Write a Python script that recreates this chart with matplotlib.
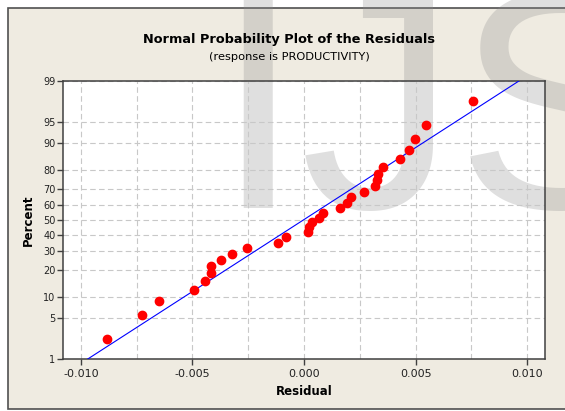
import math
import matplotlib
matplotlib.use("Agg")
import matplotlib.pyplot as plt
import numpy as np
from matplotlib.patches import Rectangle
from matplotlib.ticker import NullLocator, FixedLocator

# residuals (sorted) and their plotting positions in percent
resid = [-0.00881, -0.00728, -0.00650, -0.00494, -0.00442, -0.00418, -0.00415,
         -0.00373, -0.00324, -0.00256, -0.00117, -0.00081, 0.00018, 0.00024,
         0.00034, 0.00066, 0.00087, 0.00162, 0.00193, 0.00211, 0.00268,
         0.00316, 0.00328, 0.00333, 0.00353, 0.00431, 0.00472, 0.00496,
         0.00545, 0.00756]
pct = [2.30, 5.59, 8.88, 12.17, 15.46, 18.75, 22.04, 25.33, 28.62, 31.91,
       35.20, 38.49, 41.78, 45.07, 48.36, 51.64, 54.93, 58.22, 61.51, 64.80,
       68.09, 71.38, 74.67, 77.96, 81.25, 84.54, 87.83, 91.12, 94.41, 97.70]

# fitted line ends
line_pct = [1, 99]
line_resid = [-0.00969, 0.00963]

yticks = [1, 5, 10, 20, 30, 40, 50, 60, 70, 80, 90, 95, 99]
xticks = [-0.010, -0.005, 0.000, 0.005, 0.010]
xtick_labels = ["-0.010", "-0.005", "0.000", "0.005", "0.010"]
xminor = [-0.0075, -0.0025, 0.0025, 0.0075]


def ppf(p):
    # inverse normal cdf (Acklam), p in percent
    q = np.clip(np.asarray(p, float) / 100.0, 1e-9, 1 - 1e-9)
    a = [-3.969683028665376e+01, 2.209460984245205e+02, -2.759285104469687e+02,
         1.383577518672690e+02, -3.066479806614716e+01, 2.506628277459239e+00]
    b = [-5.447609879822406e+01, 1.615858368580409e+02, -1.556989798598866e+02,
         6.680131188771972e+01, -1.328068155288572e+01]
    c = [-7.784894002430293e-03, -3.223964580411365e-01, -2.400758277161838e+00,
         -2.549732539343734e+00, 4.374664141464968e+00, 2.938163982698783e+00]
    d = [7.784695709041462e-03, 3.224671290700398e-01, 2.445134137142996e+00,
         3.754408661907416e+00]
    out = np.empty_like(q)
    lo = q < 0.02425
    hi = q > 1 - 0.02425
    mid = ~(lo | hi)
    r = np.sqrt(-2 * np.log(q[lo]))
    out[lo] = (((((c[0]*r+c[1])*r+c[2])*r+c[3])*r+c[4])*r+c[5]) / \
              ((((d[0]*r+d[1])*r+d[2])*r+d[3])*r+1)
    r = np.sqrt(-2 * np.log(1 - q[hi]))
    out[hi] = -(((((c[0]*r+c[1])*r+c[2])*r+c[3])*r+c[4])*r+c[5]) / \
               ((((d[0]*r+d[1])*r+d[2])*r+d[3])*r+1)
    s = q[mid] - 0.5
    r = s * s
    out[mid] = (((((a[0]*r+a[1])*r+a[2])*r+a[3])*r+a[4])*r+a[5]) * s / \
               (((((b[0]*r+b[1])*r+b[2])*r+b[3])*r+b[4])*r+1)
    return out


_erf = np.vectorize(math.erf)


def cdf(z):
    return 50.0 * (1 + _erf(np.asarray(z, float) / math.sqrt(2)))


fig = plt.figure(figsize=(5.65, 4.11), dpi=100, facecolor="white")
W, H = 565.0, 411.0
fig.patches.append(Rectangle((8 / W, 1 - 409 / H), 1.2, (409 - 8) / H,
                             transform=fig.transFigure, facecolor="#efebe1",
                             edgecolor="#505050", lw=1.2, zorder=-1))

ax = fig.add_axes([63 / W, 1 - 359 / H, (545 - 63) / W, (359 - 81) / H])
ax.set_yscale("function", functions=(ppf, cdf))
ax.set_axisbelow(True)

# watermark
ax.text(214 / W, 1 - 208 / H, "IJS", transform=fig.transFigure,
        family="Liberation Sans", fontsize=224, color="#8c8c8c", alpha=0.28,
        ha="left", va="baseline", clip_on=False, zorder=0.2)

ax.plot(line_resid, line_pct, color="#0000ff", lw=0.8, zorder=3)
ax.plot(resid, pct, "o", color="#ff0000", ms=6, mec="#ff0000", zorder=4)

ax.set_xlim(-0.0108, 0.0108)
ax.set_ylim(1, 99)
ax.yaxis.set_major_locator(FixedLocator(yticks))
ax.yaxis.set_minor_locator(NullLocator())
ax.set_yticklabels([str(t) for t in yticks])
ax.set_xticks(xticks)
ax.set_xticklabels(xtick_labels)
ax.set_xticks(xminor, minor=True)

grid_kw = dict(color="#c8c8c8", lw=0.8, linestyle=(0, (5, 3)))
ax.grid(True, which="major", **grid_kw)
ax.xaxis.grid(True, which="minor", **grid_kw)

for s in ax.spines.values():
    s.set_color("#404040")
    s.set_linewidth(1.1)

ax.tick_params(axis="x", which="major", length=4, width=1, color="#404040",
               labelsize=8, pad=3.5, labelcolor="#222222")
ax.tick_params(axis="x", which="minor", length=0)
ax.tick_params(axis="y", which="major", length=4, width=1, color="#404040",
               labelsize=7, pad=1.5, labelcolor="#222222")

ax.set_xlabel("Residual", fontsize=8.5, fontweight="bold", labelpad=4)
ax.set_ylabel("Percent", fontsize=8.5, fontweight="bold", labelpad=6)

fig.text(289 / W, 1 - 39 / H, "Normal Probability Plot of the Residuals",
         ha="center", va="center", fontsize=9.3, fontweight="bold")
fig.text(289 / W, 1 - 57 / H, "(response is PRODUCTIVITY)",
         ha="center", va="center", fontsize=8.2)

fig.savefig("out.png", dpi=100, facecolor=fig.get_facecolor())
